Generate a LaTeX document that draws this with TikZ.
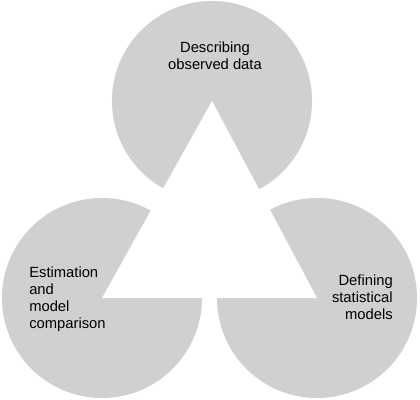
\documentclass[tikz,border=0pt]{standalone}
\usepackage{fontspec}
\setmainfont{Liberation Sans}
\usepackage{tikz}
\usetikzlibrary{positioning}
\usepackage{xcolor}
\definecolor{BlobGrey}{HTML}{D0D0D0}

\begin{document}
\begin{tikzpicture}[
    x=0.025cm, y=-0.025cm,
    blob/.style={circle, fill=BlobGrey, draw=none, inner sep=0pt, minimum size=5cm},
    label/.style={font=\fontsize{10.5}{12.2}\selectfont, inner sep=0pt}
  ]
    \useasboundingbox (0,0) rectangle (420,400);

    \node[blob] (describe) at (212,101) {};
    \node[blob] (estimate) at (102,298) {};
    \node[blob] (define) at (317,298) {};

    % white triangle between the three centres
    \fill[white] (describe.center) -- (estimate.center) -- (define.center) -- cycle;

    \node[label, align=center] (tdescribe) at (215,56) {Describing\\observed data};
    \node[label, align=left, anchor=west] (testimate) at (29,299) {Estimation\\and\\model\\comparison};
    \node[label, align=right, anchor=east] (tdefine) at (393,297) {Defining\\statistical\\models};
  \end{tikzpicture}
\end{document}
